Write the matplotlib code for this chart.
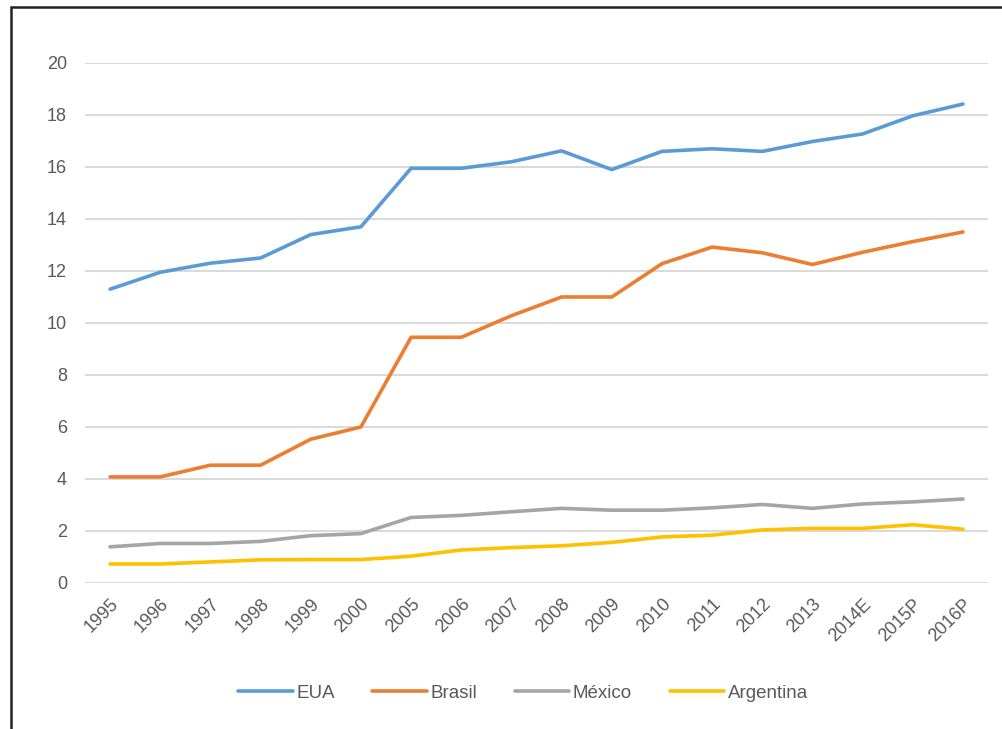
import matplotlib
matplotlib.use('Agg')
from matplotlib import pyplot as plt
from matplotlib.patches import Rectangle

# categories (years, E = estimate, P = projection)
years = ['1995', '1996', '1997', '1998', '1999', '2000', '2005', '2006', '2007',
         '2008', '2009', '2010', '2011', '2012', '2013', '2014E', '2015P', '2016P']

# series values
eua = [11.3, 11.95, 12.3, 12.5, 13.4, 13.7, 15.95, 15.95, 16.2,
       16.62, 15.9, 16.6, 16.7, 16.6, 16.98, 17.27, 17.97, 18.42]
brasil = [4.08, 4.08, 4.53, 4.53, 5.53, 6.0, 9.45, 9.45, 10.28,
          11.0, 11.0, 12.28, 12.92, 12.7, 12.25, 12.72, 13.13, 13.5]
mexico = [1.39, 1.52, 1.52, 1.6, 1.82, 1.9, 2.52, 2.6, 2.74,
          2.87, 2.8, 2.8, 2.89, 3.02, 2.87, 3.04, 3.12, 3.23]
argentina = [0.73, 0.73, 0.81, 0.89, 0.9, 0.9, 1.03, 1.27, 1.36,
             1.43, 1.56, 1.77, 1.84, 2.04, 2.1, 2.1, 2.24, 2.07]

series_names = ['EUA', 'Brasil', 'México', 'Argentina']
series_values = [eua, brasil, mexico, argentina]
colors = ['#5B9BD5', '#ED7D31', '#A5A5A5', '#FFC000']

y_ticks = [0, 2, 4, 6, 8, 10, 12, 14, 16, 18, 20]

plt.rcParams['font.family'] = ['Liberation Sans', 'DejaVu Sans']

fig = plt.figure(figsize=(10.02, 7.29), dpi=100)
ax = fig.add_axes([0.0848, 0.2003, 0.9013, 0.7133])

x = list(range(len(years)))
for name, values, color in zip(series_names, series_values, colors):
    ax.plot(x, values, color=color, linewidth=2.6, label=name,
            solid_joinstyle='round', solid_capstyle='round')

ax.set_xlim(-0.5, len(years) - 0.5)
ax.set_ylim(0, 20)
ax.set_yticks(y_ticks)
ax.set_xticks(x)
ax.set_xticklabels(years, rotation=45, ha='right', rotation_mode='anchor')

ax.grid(axis='y', color='#D9D9D9', linewidth=1.4)
ax.set_axisbelow(True)
for spine in ax.spines.values():
    spine.set_visible(False)
ax.tick_params(axis='both', length=0, labelsize=13, labelcolor='#595959')
ax.tick_params(axis='y', pad=13)
ax.tick_params(axis='x', pad=9)

# legend below the plot
fig.legend(loc='center', bbox_to_anchor=(0.522, 0.049), ncol=4, frameon=False,
           fontsize=13.5, labelcolor='#595959', handlelength=2.9,
           handletextpad=0.2, columnspacing=2.0)

# outer frame (only top and left edges visible in the source image)
frame = Rectangle((11 / 1002, -0.5), 1.5, (729 - 7) / 729 + 0.5,
                  transform=fig.transFigure, fill=False,
                  edgecolor='#222222', linewidth=1.8)
fig.patches.append(frame)

fig.savefig('out.png', dpi=100)
